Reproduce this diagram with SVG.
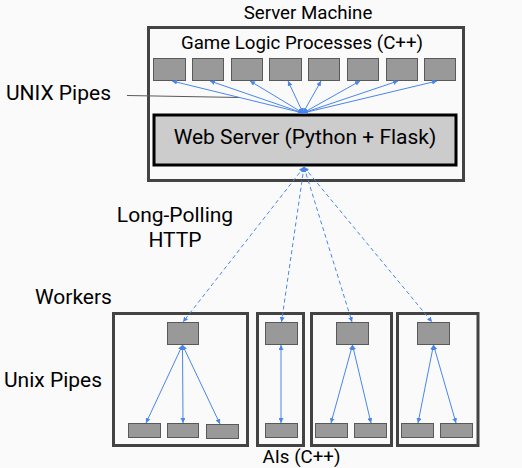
<svg xmlns="http://www.w3.org/2000/svg" width="522" height="468" viewBox="0 0 522 468">
<style>
text{font-family:Roboto,"Liberation Sans",sans-serif;fill:#000}
.lbl{font-size:21px}
.sm{font-size:18.7px}
.frame{fill:none;stroke:#434343;stroke-width:3}
.proc{fill:#999;stroke:#595959;stroke-width:1}
.web{fill:#ccc;stroke:#000;stroke-width:3}
.ar{fill:none;stroke:#4a86e8;stroke-width:1;marker-start:url(#ah);marker-end:url(#ah)}
.dash{stroke-dasharray:4 3}
</style>
<defs>
<marker id="ah" viewBox="0 0 10 10" refX="10" refY="5" markerWidth="5" markerHeight="5" markerUnits="userSpaceOnUse" orient="auto-start-reverse">
<path d="M0,0L10,5L0,10z" fill="#4a86e8"/>
</marker>
</defs>
<rect width="522" height="468" fill="#fafafa"/>

<g id="server-machine">
<rect class="frame" x="148.5" y="27.5" width="315" height="153"/>
<text class="sm" x="308" y="19" text-anchor="middle">Server Machine</text>
<text class="sm" x="302" y="49" text-anchor="middle">Game Logic Processes (C++)</text>
</g>
<g id="game-procs">
<rect class="proc" x="153.5" y="58.5" width="32" height="22"/>
<rect class="proc" x="192.5" y="58.5" width="31" height="22"/>
<rect class="proc" x="231.5" y="58.5" width="31" height="22"/>
<rect class="proc" x="269.5" y="58.5" width="32" height="22"/>
<rect class="proc" x="308.5" y="58.5" width="31" height="22"/>
<rect class="proc" x="347.5" y="58.5" width="31" height="22"/>
<rect class="proc" x="386.5" y="58.5" width="31" height="22"/>
<rect class="proc" x="424.5" y="58.5" width="31" height="22"/>
</g>
<g id="web-server">
<rect class="web" x="154" y="115" width="302" height="50"/>
<text class="lbl" x="305" y="143.5" text-anchor="middle">Web Server (Python + Flask)</text>
</g>

<g id="workers">
<g id="worker1">
<rect class="frame" x="113.5" y="313.5" width="134" height="132"/>
<rect class="proc" x="167.5" y="322.5" width="31" height="22"/>
<rect class="proc" x="128.5" y="423.5" width="32" height="14"/>
<rect class="proc" x="167.5" y="423.5" width="31" height="14"/>
<rect class="proc" x="206.5" y="424.5" width="32" height="14"/>
</g>
<g id="worker2">
<rect class="frame" x="257.5" y="313.5" width="46" height="132"/>
<rect class="proc" x="265.5" y="322.5" width="32" height="22"/>
<rect class="proc" x="265.5" y="423.5" width="32" height="14"/>
</g>
<g id="worker3">
<rect class="frame" x="311.5" y="313.5" width="80" height="132"/>
<rect class="proc" x="336.5" y="322.5" width="32" height="22"/>
<rect class="proc" x="315.5" y="423.5" width="32" height="14"/>
<rect class="proc" x="354.5" y="423.5" width="32" height="14"/>
</g>
<g id="worker4">
<rect class="frame" x="397.5" y="313.5" width="80.5" height="132"/>
<rect class="proc" x="417.5" y="322.5" width="32" height="22"/>
<rect class="proc" x="401.5" y="423.5" width="32" height="14"/>
<rect class="proc" x="440.5" y="423.5" width="32" height="14"/>
</g>
</g>

<g id="labels">
<text class="lbl" x="6" y="100">UNIX Pipes</text>
<text class="lbl" x="175" y="221.5" text-anchor="middle">Long-Polling</text>
<text class="lbl" x="175" y="246.5" text-anchor="middle">HTTP</text>
<text class="lbl" x="35" y="303.5">Workers</text>
<text class="lbl" x="4" y="386.5">Unix Pipes</text>
<text class="sm" x="301.5" y="463" text-anchor="middle">AIs (C++)</text>
</g>

<g id="connectors">
<line x1="127" y1="95.5" x2="240" y2="97.5" stroke="#595959" stroke-width="1"/>
<line class="ar" x1="303" y1="113" x2="172" y2="81"/>
<line class="ar" x1="303" y1="113" x2="210" y2="81"/>
<line class="ar" x1="303" y1="113" x2="250" y2="81"/>
<line class="ar" x1="303" y1="113" x2="288" y2="81"/>
<line class="ar" x1="303" y1="113" x2="321" y2="81"/>
<line class="ar" x1="303" y1="113" x2="360" y2="81"/>
<line class="ar" x1="303" y1="113" x2="398" y2="81"/>
<line class="ar" x1="303" y1="113" x2="437" y2="81"/>
<line class="ar dash" x1="304" y1="167" x2="183" y2="322"/>
<line class="ar dash" x1="304" y1="167" x2="281.5" y2="322"/>
<line class="ar dash" x1="304" y1="167" x2="352" y2="322"/>
<line class="ar dash" x1="304" y1="167" x2="432" y2="322"/>
<line class="ar" x1="182.5" y1="345" x2="146" y2="423"/>
<line class="ar" x1="182.5" y1="345" x2="183" y2="423"/>
<line class="ar" x1="182.5" y1="345" x2="220" y2="424"/>
<line class="ar" x1="281" y1="345" x2="281" y2="423"/>
<line class="ar" x1="352.5" y1="345" x2="331" y2="423"/>
<line class="ar" x1="352.5" y1="345" x2="371" y2="423"/>
<line class="ar" x1="433.5" y1="345" x2="418" y2="423"/>
<line class="ar" x1="433.5" y1="345" x2="456" y2="423"/>
</g>
</svg>
